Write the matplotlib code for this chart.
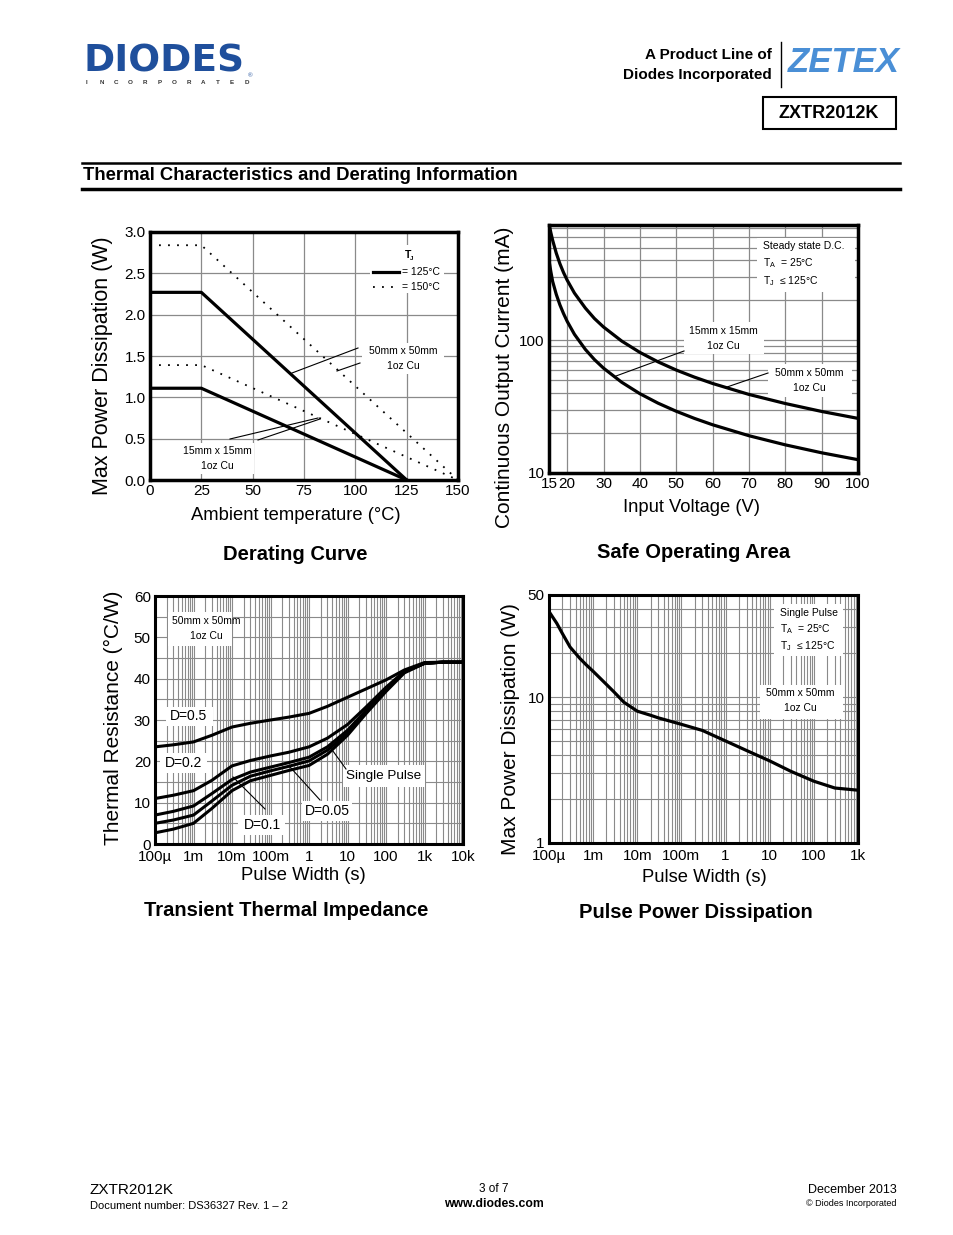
import numpy as np
import matplotlib
matplotlib.use('Agg')
import matplotlib.pyplot as plt
from matplotlib.patches import Rectangle
from matplotlib.lines import Line2D
from matplotlib.ticker import FixedLocator, NullFormatter, LogLocator

# ---- data ----
# Derating curve
temp_125 = [0, 25, 125]
p50_125 = [2.27, 2.27, 0.0]
p15_125 = [1.11, 1.11, 0.0]
temp_150 = [0, 25, 150]
p50_150 = [2.84, 2.84, 0.0]
p15_150 = [1.39, 1.39, 0.0]

# Safe operating area
v_in = [15, 15.5, 16, 17, 18, 19, 20, 22, 25, 27.5, 30, 35, 40, 45, 50, 55, 60, 70, 80, 90, 100]
i_50mm = [757, 649, 568, 454, 378, 324, 284, 227, 175, 146, 126, 98.7, 81.1, 68.8, 59.7, 52.8, 47.3, 39.1, 33.4, 29.1, 25.8]
i_15mm = [400, 330, 278, 222, 185, 159, 139, 111, 85.4, 71.6, 61.7, 48.3, 39.6, 33.6, 29.2, 25.8, 23.1, 19.1, 16.3, 14.2, 12.6]

# Transient thermal impedance
t_pulse = [1e-4, 3e-4, 1e-3, 3e-3, 1e-2, 3e-2, 1e-1, 3e-1, 1, 3, 10, 30, 100, 300, 1e3, 3e3, 1e4]
r_d50 = [23.5, 24.0, 24.7, 26.3, 28.3, 29.2, 30.0, 30.7, 31.6, 33.3, 35.5, 37.5, 39.7, 42.1, 43.9, 44.0, 44.0]
r_d20 = [11.0, 11.8, 12.9, 15.4, 18.9, 20.2, 21.3, 22.2, 23.5, 25.6, 28.9, 33.1, 37.9, 41.8, 43.7, 44.0, 44.0]
r_d10 = [7.0, 7.9, 9.2, 12.2, 15.6, 17.4, 18.6, 19.7, 21.0, 23.5, 27.5, 32.3, 37.5, 41.7, 43.7, 44.0, 44.0]
r_d05 = [5.0, 5.8, 7.0, 10.4, 14.2, 16.4, 17.7, 18.8, 20.1, 22.7, 26.8, 31.9, 37.3, 41.6, 43.7, 44.0, 44.0]
r_single = [2.7, 3.6, 5.0, 8.6, 12.9, 15.3, 16.6, 17.8, 19.0, 21.7, 26.3, 31.5, 36.9, 41.4, 43.7, 44.0, 44.0]

# Pulse power dissipation
t_pp = [1e-4, 1.5e-4, 2e-4, 3e-4, 5e-4, 7e-4, 1e-3, 2e-3, 3e-3, 5e-3, 7e-3, 1e-2, 2e-2, 3e-2,
        1e-1, 3e-1, 1, 3, 10, 30, 100, 300, 1e3]
p_pulse = [38.5, 32.0, 27.3, 22.0, 18.4, 16.6, 15.0, 12.2, 10.8, 9.2, 8.6, 8.0, 7.5, 7.2,
           6.5, 5.9, 5.0, 4.3, 3.65, 3.1, 2.65, 2.38, 2.3]

log_ticks_3 = [1e-4, 1e-3, 1e-2, 1e-1, 1, 10, 100, 1e3, 1e4]
log_labels_3 = ['100µ', '1m', '10m', '100m', '1', '10', '100', '1k', '10k']
log_ticks_4 = [1e-4, 1e-3, 1e-2, 1e-1, 1, 10, 100, 1e3]
log_labels_4 = ['100µ', '1m', '10m', '100m', '1', '10', '100', '1k']

plt.rcParams['font.family'] = ['Liberation Sans', 'DejaVu Sans']
plt.rcParams['mathtext.fontset'] = 'custom'
plt.rcParams['mathtext.rm'] = 'Liberation Sans'
SANS = ['Liberation Sans', 'DejaVu Sans']
GRID = '#8a8a8a'

W, H = 954, 1235
fig = plt.figure(figsize=(W / 100, H / 100), dpi=100)

# page axes in pixel coordinates, used for header/footer and placing notes
page = fig.add_axes([0, 0, 1, 1])
page.set_xlim(0, W)
page.set_ylim(H, 0)
page.axis('off')
P = page.transData


def add_box(l, t, r, b):
    return fig.add_axes([l / W, 1 - b / H, (r - l) / W, (b - t) / H])


def style(ax, lw=2.2):
    for s in ax.spines.values():
        s.set_linewidth(lw)
        s.set_zorder(6)
    ax.tick_params(which='both', length=0, labelsize=11, pad=3)
    ax.set_axisbelow(True)


def white(ax, l, t, r, b):
    ax.add_patch(Rectangle((l, t), r - l, b - t, transform=P, fc='white', ec='none', zorder=1.5))


def note(ax, x, y, s, size=7.5, **kw):
    ax.text(x, y, s, transform=P, fontsize=size, family=SANS, ha='center', va='center', zorder=7, **kw)


def leader(ax, x0, y0, x1, y1):
    ax.add_line(Line2D([x0, x1], [y0, y1], transform=P, color='black', lw=0.8, zorder=7))


# ---------------- header ----------------
page.text(84, 62, 'DIODES', family='DejaVu Sans', fontweight='bold', fontsize=27,
          color='#1f4f9c', ha='left', va='center')
page.text(250, 76, '®', fontsize=4.5, color='#1f4f9c', ha='center', va='center')
for k, ch in enumerate('INCORPORATED'):
    page.text(87 + k * 14.5, 83, ch, fontsize=4.5, fontweight='bold', color='#333333',
              ha='center', va='center')

page.text(772, 55, 'A Product Line of', fontsize=11, fontweight='bold', ha='right', va='center')
page.text(772, 75, 'Diodes Incorporated', fontsize=11, fontweight='bold', ha='right', va='center')
page.plot([781, 781], [42, 87], color='black', lw=1)
page.text(844, 62, 'ZETEX', fontweight='bold', style='italic', fontsize=25,
          color='#4a8fd6', ha='center', va='center')
page.add_patch(Rectangle((763, 97), 133, 32, fc='none', ec='black', lw=1.5))
page.text(829, 113, 'ZXTR2012K', fontsize=13, fontweight='bold', ha='center', va='center')

page.plot([82, 900], [163, 163], color='black', lw=1.8)
page.plot([82, 900], [189, 189], color='black', lw=2.5)
page.text(83, 176, 'Thermal Characteristics and Derating Information', fontsize=13.3,
          fontweight='bold', ha='left', va='center')

# ---------------- Derating curve ----------------
ax1 = add_box(150, 232, 458, 480)
style(ax1, 2.5)
ax1.grid(True, color=GRID, lw=0.9)
ax1.plot(temp_125, p50_125, color='black', lw=2.3, zorder=3)
ax1.plot(temp_125, p15_125, color='black', lw=2.3, zorder=3)
ax1.plot(temp_150, p50_150, color='black', lw=1.3, ls=(0, (1, 4)), zorder=3)
ax1.plot(temp_150, p15_150, color='black', lw=1.3, ls=(0, (1, 4)), zorder=3)
ax1.set_xlim(0, 150)
ax1.set_ylim(0, 3)
ax1.set_xticks(np.arange(0, 151, 25))
ax1.set_yticks(np.arange(0, 3.01, 0.5))
ax1.set_yticklabels(['%.1f' % v for v in np.arange(0, 3.01, 0.5)])

white(ax1, 370, 245, 444, 293)
note(ax1, 408, 255, 'T', size=7.5, fontweight='bold')
note(ax1, 412, 259, 'J', size=4.5, fontweight='bold')
ax1.add_line(Line2D([373, 399], [272, 272], transform=P, color='black', lw=2.3, zorder=7))
ax1.add_line(Line2D([373, 399], [287, 287], transform=P, color='black', lw=1.3, ls=(0, (1, 4)), zorder=7))
ax1.text(402, 272, '= 125°C', transform=P, fontsize=7.5, va='center', zorder=7)
ax1.text(402, 287, '= 150°C', transform=P, fontsize=7.5, va='center', zorder=7)

white(ax1, 362, 343, 444, 374)
note(ax1, 403, 351, '50mm x 50mm')
note(ax1, 403, 366, '1oz Cu')
leader(ax1, 358, 348, 292, 373)
leader(ax1, 360, 363, 337, 371)

white(ax1, 180, 443, 254, 474)
note(ax1, 217, 451, '15mm x 15mm')
note(ax1, 217, 466, '1oz Cu')
leader(ax1, 230, 439, 318, 418)
leader(ax1, 258, 440, 320, 419)

page.text(296, 516, 'Ambient temperature (°C)', fontsize=13.2, ha='center', va='center')
page.text(103, 366, 'Max Power Dissipation (W)', fontsize=15.5, rotation=90, ha='center', va='center')
page.text(295, 554, 'Derating Curve', fontsize=14.5, fontweight='bold', ha='center', va='center')

# ---------------- Safe operating area ----------------
ax2 = add_box(549, 225, 858, 473)
style(ax2, 2.5)
ax2.set_yscale('log')
ax2.plot(v_in, i_50mm, color='black', lw=2.3, zorder=3)
ax2.plot(v_in, i_15mm, color='black', lw=2.3, zorder=3)
ax2.set_xlim(15, 100)
ax2.set_ylim(10, 740)
ax2.set_xticks([15, 20, 30, 40, 50, 60, 70, 80, 90, 100])
ax2.yaxis.set_major_locator(FixedLocator([10, 100]))
ax2.yaxis.set_minor_locator(LogLocator(base=10, subs=np.arange(2, 10)))
ax2.yaxis.set_minor_formatter(NullFormatter())
ax2.set_yticklabels(['10', '100'])
ax2.grid(True, which='both', color=GRID, lw=0.9)

white(ax2, 757, 238, 855, 292)
ax2.text(763, 246, 'Steady state D.C.', transform=P, fontsize=7.5, va='center', zorder=7)
ax2.text(763, 263, r'T$_\mathregular{A}$  = 25°C', transform=P, fontsize=7.5, va='center', zorder=7)
ax2.text(763, 281, r'T$_\mathregular{J}$  ≤ 125°C', transform=P, fontsize=7.5, va='center', zorder=7)

white(ax2, 684, 322, 764, 354)
note(ax2, 723, 331, '15mm x 15mm')
note(ax2, 723, 346, '1oz Cu')
leader(ax2, 684, 351, 616, 376)

white(ax2, 768, 364, 852, 397)
note(ax2, 809, 373, '50mm x 50mm')
note(ax2, 809, 388, '1oz Cu')
leader(ax2, 768, 373, 727, 387)

page.text(692, 507, 'Input Voltage (V)', fontsize=13.2, ha='center', va='center')
page.text(505, 377, 'Continuous Output Current (mA)', fontsize=15, rotation=90, ha='center', va='center')
page.text(694, 552, 'Safe Operating Area', fontsize=14.5, fontweight='bold', ha='center', va='center')

# ---------------- Transient thermal impedance ----------------
ax3 = add_box(155, 596, 463, 844)
style(ax3, 2.2)
ax3.tick_params(axis='x', pad=4.5)
ax3.set_xscale('log')
for r in [r_d50, r_d20, r_d10, r_d05, r_single]:
    ax3.plot(t_pulse, r, color='black', lw=2.2, zorder=3)
ax3.set_xlim(1e-4, 1e4)
ax3.set_ylim(0, 60)
ax3.xaxis.set_major_locator(FixedLocator(log_ticks_3))
ax3.set_xticklabels(log_labels_3)
ax3.xaxis.set_minor_locator(LogLocator(base=10, subs=np.arange(2, 10), numticks=20))
ax3.xaxis.set_minor_formatter(NullFormatter())
ax3.set_yticks(np.arange(0, 61, 10))
ax3.yaxis.set_minor_locator(FixedLocator(np.arange(5, 60, 10)))
ax3.grid(True, which='both', color=GRID, lw=0.8)

white(ax3, 168, 612, 232, 646)
note(ax3, 206, 621, '50mm x 50mm')
note(ax3, 206, 636, '1oz Cu')
white(ax3, 166, 707, 213, 726)
note(ax3, 189, 716, 'D=0.5', size=10)
white(ax3, 160, 753, 207, 773)
note(ax3, 184, 763, 'D=0.2', size=10)
white(ax3, 343, 765, 425, 787)
note(ax3, 384, 776, 'Single Pulse', size=9.7)
leader(ax3, 346, 769, 330, 747)
white(ax3, 302, 801, 352, 821)
note(ax3, 327, 811, 'D=0.05', size=10)
leader(ax3, 320, 800, 290, 767)
white(ax3, 238, 815, 285, 835)
note(ax3, 262, 825, 'D=0.1', size=10)
leader(ax3, 265, 809, 233, 777)

page.text(303, 876, 'Pulse Width (s)', fontsize=13.2, ha='center', va='center')
page.text(113, 718, 'Thermal Resistance (°C/W)', fontsize=15, rotation=90, ha='center', va='center')
page.text(286, 911, 'Transient Thermal Impedance', fontsize=14.5, fontweight='bold', ha='center', va='center')

# ---------------- Pulse power dissipation ----------------
ax4 = add_box(549, 595, 858, 843)
style(ax4, 2.2)
ax4.tick_params(axis='x', pad=4.5)
ax4.set_xscale('log')
ax4.set_yscale('log')
ax4.plot(t_pp, p_pulse, color='black', lw=2.3, zorder=3)
ax4.set_xlim(1e-4, 1e3)
ax4.set_ylim(1, 50)
ax4.xaxis.set_major_locator(FixedLocator(log_ticks_4))
ax4.set_xticklabels(log_labels_4)
ax4.xaxis.set_minor_locator(LogLocator(base=10, subs=np.arange(2, 10), numticks=20))
ax4.xaxis.set_minor_formatter(NullFormatter())
ax4.yaxis.set_major_locator(FixedLocator([1, 10, 50]))
ax4.set_yticklabels(['1', '10', '50'])
ax4.yaxis.set_minor_locator(LogLocator(base=10, subs=np.arange(2, 10)))
ax4.yaxis.set_minor_formatter(NullFormatter())
ax4.grid(True, which='both', color=GRID, lw=0.8)

white(ax4, 774, 604, 843, 656)
ax4.text(780, 613, 'Single Pulse', transform=P, fontsize=7.5, va='center', zorder=7)
ax4.text(780, 629, r'T$_\mathregular{A}$  = 25°C', transform=P, fontsize=7.5, va='center', zorder=7)
ax4.text(780, 646, r'T$_\mathregular{J}$  ≤ 125°C', transform=P, fontsize=7.5, va='center', zorder=7)
white(ax4, 760, 685, 843, 719)
note(ax4, 800, 693, '50mm x 50mm')
note(ax4, 800, 708, '1oz Cu')

page.text(704, 878, 'Pulse Width (s)', fontsize=13.2, ha='center', va='center')
page.text(511, 729, 'Max Power Dissipation (W)', fontsize=15, rotation=90, ha='center', va='center')
page.text(696, 913, 'Pulse Power Dissipation', fontsize=14.5, fontweight='bold', ha='center', va='center')

# ---------------- footer ----------------
page.text(90, 1190, 'ZXTR2012K', fontsize=11, ha='left', va='center')
page.text(90, 1206, 'Document number: DS36327 Rev. 1 – 2', fontsize=8, ha='left', va='center')
page.text(494, 1189, '3 of 7', fontsize=8.5, ha='center', va='center')
page.text(494, 1204, 'www.diodes.com', fontsize=8.8, fontweight='bold', ha='center', va='center')
page.text(897, 1190, 'December 2013', fontsize=9, ha='right', va='center')
page.text(897, 1204, '© Diodes Incorporated', fontsize=6.5, ha='right', va='center')

fig.savefig('out.png', dpi=100)
